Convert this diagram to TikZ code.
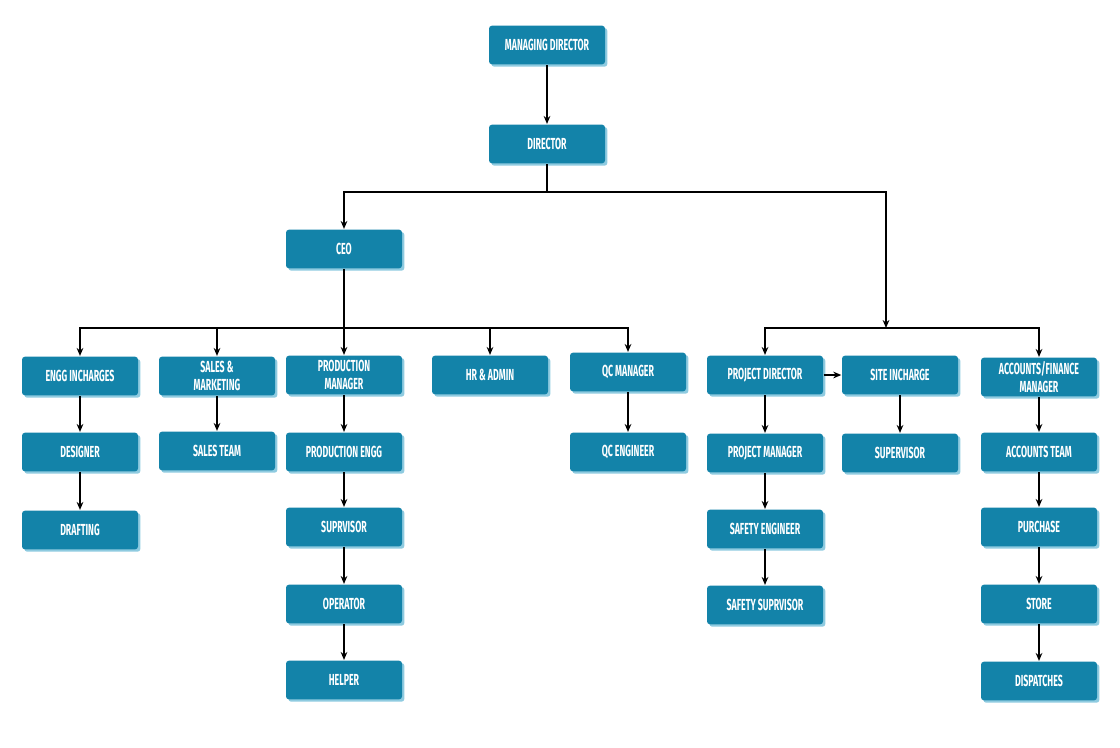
\documentclass[tikz,border=0pt]{standalone}
\usepackage{fontspec}
\setmainfont[FakeStretch=0.55]{Fira Sans}
\usepackage{xcolor}
\usetikzlibrary{arrows.meta,shadows}

\definecolor{boxblue}{HTML}{1383A9}
\definecolor{shadeblue}{HTML}{8FCBE0}

\begin{document}
\begin{tikzpicture}[x=0.75pt,y=-0.75pt]
\tikzstyle{every path}=[line width=1.1pt]
\tikzstyle{post}=[draw=none,fill=boxblue,rounded corners=2.2pt,minimum width=87pt,minimum height=29pt,
  inner sep=2pt,text=white,align=center,font=\fontsize{12}{13.5}\selectfont\bfseries,
  drop shadow={shadow xshift=1.8pt,shadow yshift=-1.8pt,fill=shadeblue,opacity=1}]
\tikzstyle{link}=[-{Stealth[length=6pt,width=5pt]},black]

\useasboundingbox (0,0) rectangle (1120,747);

%% top of the tree
\node (md)  [post] at (547,45)  {MANAGING DIRECTOR};
\node (dir) [post] at (547,144) {DIRECTOR};
\node (ceo) [post] at (344,249) {CEO};

%% second level
\node (engg)  [post] at (80,376)   {ENGG INCHARGES};
\node (sales) [post] at (217,376)  {SALES \&\\MARKETING};
\node (pmgr)  [post] at (344,375)  {PRODUCTION\\MANAGER};
\node (hr)    [post] at (490,375)  {HR \& ADMIN};
\node (qcm)   [post] at (628,372)  {QC MANAGER};
\node (pdir)  [post] at (765,375)  {PROJECT DIRECTOR};
\node (site)  [post] at (900,375)  {SITE INCHARGE};
\node (acc)   [post] at (1039,377) {ACCOUNTS/FINANCE\\MANAGER};

%% third level
\node (des)   [post] at (80,452)   {DESIGNER};
\node (steam) [post] at (217,451)  {SALES TEAM};
\node (peng)  [post] at (344,452)  {PRODUCTION ENGG};
\node (qce)   [post] at (628,452)  {QC ENGINEER};
\node (pm)    [post] at (765,453)  {PROJECT MANAGER};
\node (sup)   [post] at (900,453)  {SUPERVISOR};
\node (acct)  [post] at (1039,452) {ACCOUNTS TEAM};

%% lower levels
\node (draft) [post] at (80,530)   {DRAFTING};
\node (psup)  [post] at (344,527)  {SUPRVISOR};
\node (seng)  [post] at (765,529)  {SAFETY ENGINEER};
\node (purch) [post] at (1039,527) {PURCHASE};
\node (oper)  [post] at (344,604)  {OPERATOR};
\node (ssup)  [post] at (765,605)  {SAFETY SUPRVISOR};
\node (store) [post] at (1039,604) {STORE};
\node (help)  [post] at (344,680)  {HELPER};
\node (disp)  [post] at (1039,681) {DISPATCHES};

%% branch points
\coordinate (top)  at (547,192);
\coordinate (lbus) at (344,328);
\coordinate (rbus) at (886,328);

\draw [link] (md) -- (dir);
\draw (dir) -- (top);
\draw [link] (top) -| (ceo);
\draw [link] (top) -| (rbus);
\draw (ceo) -- (lbus);
\foreach \n in {engg,sales,pmgr,hr,qcm}
    \draw [link] (lbus) -| (\n);
\foreach \n in {pdir,acc}
    \draw [link] (rbus) -| (\n);

%% columns
\foreach \a/\b in {engg/des,des/draft,sales/steam,pmgr/peng,peng/psup,psup/oper,oper/help,
                   qcm/qce,pdir/pm,pm/seng,seng/ssup,site/sup,acc/acct,acct/purch,purch/store,store/disp}
    \draw [link] (\a) -- (\b);
\draw [link] (pdir) -- (site);
\end{tikzpicture}
\end{document}
